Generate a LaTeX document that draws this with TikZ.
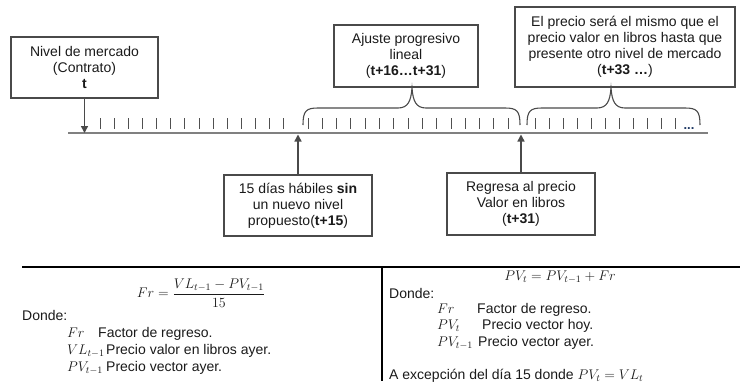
\documentclass[tikz,border=0pt]{standalone}
\usepackage{amsmath}
\usepackage{fix-cm}
\usepackage{fontspec}
\setmainfont{Liberation Sans}
\usetikzlibrary{arrows.meta}
\definecolor{boxgray}{HTML}{4A4A4A}
\definecolor{axgray}{HTML}{808080}
\definecolor{tickgray}{HTML}{505050}
\definecolor{txt}{HTML}{1A1A1A}
\definecolor{dots}{HTML}{1F3864}
\begin{document}
\begin{tikzpicture}[x=1pt,y=-1pt,
  box/.style={draw=boxgray, line width=1.1pt, fill=white, align=center, text=txt,
    font=\fontsize{14}{16}\selectfont, inner sep=2pt},
  arr/.style={draw=boxgray, line width=1.4pt, -{Triangle[length=7pt,width=7pt]}},
  tick/.style={draw=tickgray, line width=1pt},
  brc/.style={draw=boxgray, line width=1.1pt},
  txtn/.style={font=\fontsize{14}{17}\selectfont, text=txt, inner sep=0pt}]
\useasboundingbox (0,0) rectangle (740,381);
\clip (0,0) rectangle (740,381);

% axis
\coordinate (axL) at (68,133);
\coordinate (axR) at (708,133);
\draw[draw=axgray, line width=1.6pt] (axL) -- (axR);

% ticks
\foreach \i in {0,...,13} \draw[tick] ({100+\i*14.15},118) -- ++(0,11);
\foreach \i in {0,...,14} \draw[tick] ({308+\i*14.3},118) -- ++(0,11);
\foreach \i in {0,...,10} \draw[tick] ({535+\i*14},118) -- ++(0,11);
\node[anchor=base, font=\fontsize{13}{13}\selectfont\bfseries, text=dots, inner sep=0pt] (dt) at (689,129) {...};

% boxes
\node[box, minimum width=147pt, minimum height=61pt] (b1) at (84.5,67.5)
  {Nivel de mercado\\(Contrato)\\\textbf{t}};
\node[box, minimum width=144pt, minimum height=62pt] (b2) at (406,56)
  {Ajuste progresivo\\lineal\\(\textbf{t+16…t+31})};
\node[box, minimum width=220pt, minimum height=80pt] (b3) at (625,47)
  {El precio será el mismo que el\\precio valor en libros hasta que\\presente otro nivel de mercado\\(\textbf{t+33 …})};
\node[box, minimum width=148pt, minimum height=61pt] (b4) at (298,205.5)
  {15 días hábiles \textbf{sin}\\un nuevo nivel\\propuesto(\textbf{t+15})};
\node[box, minimum width=148pt, minimum height=62pt] (b5) at (521,204)
  {Regresa al precio\\Valor en libros\\(\textbf{t+31})};

% arrows
\draw[arr] (b1.south) -- (b1.south |- axL);
\draw[arr] (b4.north) -- ([yshift=-1.5pt]b4.north |- axL);
\draw[arr] (b5.north) -- ([yshift=-1.5pt]b5.north |- axL);

% braces
\draw[brc] (303,125) .. controls (303,111) and (306,108) .. (318,108) -- (398,108)
  .. controls (408,108) and (411,101) .. (412,88)
  .. controls (413,101) and (416,108) .. (426,108) -- (505,108)
  .. controls (517,108) and (520,111) .. (520,125);
\draw[brc] (527,125) .. controls (527,111) and (530,108) .. (542,108) -- (597,108)
  .. controls (607,108) and (610,101) .. (611,88)
  .. controls (612,101) and (615,108) .. (625,108) -- (685,108)
  .. controls (697,108) and (700,111) .. (700,125);

% bottom frame
\draw[black, line width=1.7pt] (22,267) -- (740,267);
\draw[black, line width=1.2pt] (382,267) -- (382,381);

% left formula block
\node[txtn] (f1) at (201,293) {$Fr=\dfrac{VL_{t-1}-PV_{t-1}}{15}$};
\node[txtn, anchor=base west] (d1) at (22,320) {Donde:};
\node[txtn, anchor=base west] (l1m) at (67,337) {$Fr$};
\node[txtn, anchor=base west] (l1t) at (98,337) {Factor de regreso.};
\node[txtn, anchor=base west] (l2m) at (67,354) {$VL_{t-1}$};
\node[txtn, anchor=base west] (l2t) at (106,354) {Precio valor en libros ayer.};
\node[txtn, anchor=base west] (l3m) at (67,371) {$PV_{t-1}$};
\node[txtn, anchor=base west] (l3t) at (106,371) {Precio vector ayer.};

% right formula block
\node[txtn] (f2) at (560,277) {$PV_t=PV_{t-1}+Fr$};
\node[txtn, anchor=base west] (d2) at (389,298) {Donde:};
\node[txtn, anchor=base west] (r1m) at (437,313) {$Fr$};
\node[txtn, anchor=base west] (r1t) at (477,313) {Factor de regreso.};
\node[txtn, anchor=base west] (r2m) at (437,329) {$PV_t$};
\node[txtn, anchor=base west] (r2t) at (482,329) {Precio vector hoy.};
\node[txtn, anchor=base west] (r3m) at (437,346) {$PV_{t-1}$};
\node[txtn, anchor=base west] (r3t) at (478,346) {Precio vector ayer.};
\node[txtn, anchor=base west] (ex) at (389,379.5) {A excepción del día 15 donde $PV_t=VL_t$};
\end{tikzpicture}
\end{document}
